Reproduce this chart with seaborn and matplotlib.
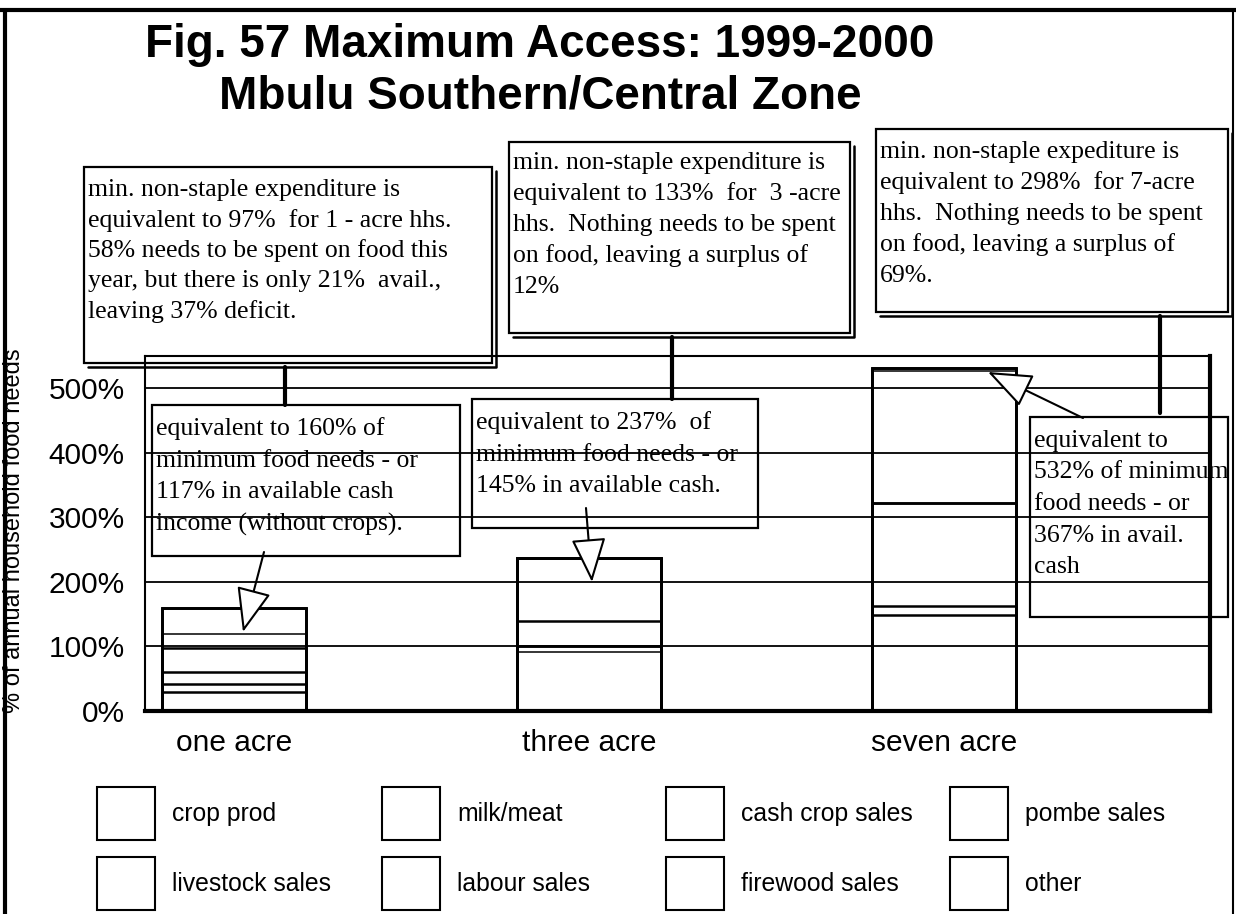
import numpy as np
import pandas as pd
import matplotlib
matplotlib.use('Agg')
import matplotlib.pyplot as plt
import seaborn as sns
from matplotlib.patches import Rectangle, FancyArrowPatch
from matplotlib.lines import Line2D

# data (% of annual household food needs)
farms = ['one acre', 'three acre', 'seven acre']
sources = ['crop prod', 'milk/meat', 'cash crop sales', 'pombe sales',
           'livestock sales', 'labour sales', 'firewood sales', 'other']
crop_prod = [30, 91, 149]
milk_meat = [12, 10, 14]
cash_crop_sales = [19, 0, 159]
pombe_sales = [37, 38, 0]
livestock_sales = [21, 98, 205]
labour_sales = [41, 0, 5]
firewood_sales = [0, 0, 0]
other = [0, 0, 0]

yticks = [0, 100, 200, 300, 400, 500]
ytick_labels = ['0%', '100%', '200%', '300%', '400%', '500%']

title = 'Fig. 57 Maximum Access: 1999-2000\nMbulu Southern/Central Zone'
ylabel = '% of annual household food needs'

top_notes = [
    'min. non-staple expenditure is\nequivalent to 97%  for 1 - acre hhs.\n'
    '58% needs to be spent on food this\nyear, but there is only 21%  avail.,\n'
    'leaving 37% deficit.',
    'min. non-staple expenditure is\nequivalent to 133%  for  3 -acre\n'
    'hhs.  Nothing needs to be spent\non food, leaving a surplus of\n12%',
    'min. non-staple expediture is\nequivalent to 298%  for 7-acre\n'
    'hhs.  Nothing needs to be spent\non food, leaving a surplus of\n69%.',
]
bar_notes = [
    'equivalent to 160% of\nminimum food needs - or\n117% in available cash\n'
    'income (without crops).',
    'equivalent to 237%  of\nminimum food needs - or\n145% in available cash.',
    'equivalent to\n532% of minimum\nfood needs - or\n367% in avail.\ncash',
]

# empty slots between the bars
slots = ['one acre', ' ', 'three acre', '  ', 'seven acre', '   ']

df = pd.DataFrame({'farm': farms, 'crop prod': crop_prod, 'milk/meat': milk_meat,
                   'cash crop sales': cash_crop_sales, 'pombe sales': pombe_sales,
                   'livestock sales': livestock_sales, 'labour sales': labour_sales,
                   'firewood sales': firewood_sales, 'other': other})
cum = df[sources].cumsum(axis=1)

sns.set_style('white')
plt.rcParams['font.family'] = ['Liberation Sans', 'DejaVu Sans']
plt.rcParams['text.color'] = 'black'
plt.rcParams['xtick.color'] = 'black'
plt.rcParams['ytick.color'] = 'black'
plt.rcParams['axes.labelcolor'] = 'black'

W, H = 1236, 914


def fx(px):
    return px / W


def fy(py):
    return 1 - py / H


fig = plt.figure(figsize=(W / 100, H / 100), dpi=100)
ax = fig.add_axes([fx(145), fy(711), (1210 - 145) / W, (711 - 356) / H])

thin = {('one acre', 'livestock sales'), ('three acre', 'crop prod'),
        ('seven acre', 'livestock sales')}

# stacked bars drawn as cumulative outlines, tallest first
for src in reversed(sources):
    n0 = len(ax.patches)
    sns.barplot(x=df['farm'], y=cum[src], order=slots, width=0.81, fill=False,
                color='black', linewidth=1.8, errorbar=None, ax=ax)
    for p in ax.patches[n0:]:
        farm = slots[int(round(p.get_x() + p.get_width() / 2))]
        if (farm, src) in thin:
            p.set_linewidth(1.1)

ax.set_xlim(-0.5, len(slots) - 0.5)
ax.set_ylim(0, 550)
ax.set_xlabel('')
ax.set_ylabel('')

ax.set_xticks(np.arange(-0.5, len(slots), 1))
ax.set_xticklabels([])
ax.set_xticks([slots.index(f) for f in farms], minor=True)
ax.set_xticklabels(farms, minor=True)
ax.tick_params(axis='x', which='major', direction='inout', length=22, width=1.5, color='black')
ax.tick_params(axis='x', which='minor', length=0, pad=13, labelsize=21.5, labelcolor='black')

ax.set_yticks(yticks)
ax.set_yticklabels(ytick_labels)
ax.set_yticks(np.arange(50, 500, 100), minor=True)
ax.tick_params(axis='y', which='major', direction='inout', length=19, width=1.5,
               labelsize=21.5, pad=5, color='black', labelcolor='black')
ax.tick_params(axis='y', which='minor', direction='inout', length=13, width=1.5, color='black')
ax.yaxis.grid(True, which='major', color='black', linewidth=1.3)
ax.xaxis.grid(False)

for side, lw in [('left', 1.5), ('top', 1.5), ('bottom', 3), ('right', 3)]:
    ax.spines[side].set_visible(True)
    ax.spines[side].set_color('black')
    ax.spines[side].set_linewidth(lw)

fig.text(fx(14), fy(531), ylabel, rotation=90, ha='center', va='center', fontsize=17)
fig.text(fx(540), fy(71), title, ha='center', va='center', fontsize=33,
         fontweight='bold', linespacing=1.22)


def note_box(x0, y0, x1, y1, text, base, step, shadow=False):
    fig.add_artist(Rectangle((fx(x0), fy(y1)), (x1 - x0) / W, (y1 - y0) / H,
                             transform=fig.transFigure, fill=False, ec='black', lw=1.6))
    if shadow:
        fig.add_artist(Line2D([fx(x0 + 4), fx(x1 + 4), fx(x1 + 4)],
                              [fy(y1 + 4), fy(y1 + 4), fy(y0 + 4)],
                              transform=fig.transFigure, color='black', lw=1.8))
    # one line at a time so the line pitch is even
    for i, line in enumerate(text.split('\n')):
        fig.text(fx(x0 + 4), fy(base + i * step), line, ha='left', va='baseline',
                 fontsize=18.5, family='Liberation Serif')


def connector(x, y0, y1):
    fig.add_artist(Line2D([fx(x), fx(x)], [fy(y0), fy(y1)],
                          transform=fig.transFigure, color='black', lw=3))


def hollow_arrow(start, tip):
    fig.add_artist(FancyArrowPatch((fx(start[0]), fy(start[1])), (fx(tip[0]), fy(tip[1])),
                                   transform=fig.transFigure,
                                   arrowstyle='-|>,head_length=28,head_width=11',
                                   mutation_scale=1, shrinkA=0, shrinkB=0,
                                   fc='white', ec='black', lw=1.5))


note_box(84, 167, 492, 363, top_notes[0], 196, 30.5, shadow=True)
note_box(509, 142, 850, 333, top_notes[1], 169, 31, shadow=True)
note_box(876, 129, 1228, 312, top_notes[2], 158, 31, shadow=True)
note_box(152, 405, 460, 556, bar_notes[0], 435, 31.7)
note_box(472, 399, 758, 528, bar_notes[1], 429, 31.5)
note_box(1030, 417, 1228, 617, bar_notes[2], 447, 31.5)

connector(285, 367, 405)
connector(672, 337, 399)
connector(1160, 316, 413)

hollow_arrow((264, 552), (243, 632))
hollow_arrow((586, 508), (592, 582))
hollow_arrow((1083, 418), (988, 372))

# legend: empty boxes, row by row
col_x = [97, 382, 666, 950]
row_y = [787, 857]
for i, src in enumerate(sources):
    x0 = col_x[i % 4]
    y0 = row_y[i // 4]
    fig.add_artist(Rectangle((fx(x0), fy(y0 + 53)), 58 / W, 53 / H,
                             transform=fig.transFigure, fill=False, ec='black', lw=1.5))
    fig.text(fx(x0 + 75), fy(y0 + 27), src, ha='left', va='center', fontsize=17.8)

# page border
fig.add_artist(Line2D([0, 1], [fy(10), fy(10)], transform=fig.transFigure, color='black', lw=3))
fig.add_artist(Line2D([fx(5), fx(5)], [fy(10), 0], transform=fig.transFigure, color='black', lw=3))
fig.add_artist(Line2D([fx(1233), fx(1233)], [fy(10), 0], transform=fig.transFigure, color='black', lw=1.5))

fig.savefig('out.png', dpi=100)
